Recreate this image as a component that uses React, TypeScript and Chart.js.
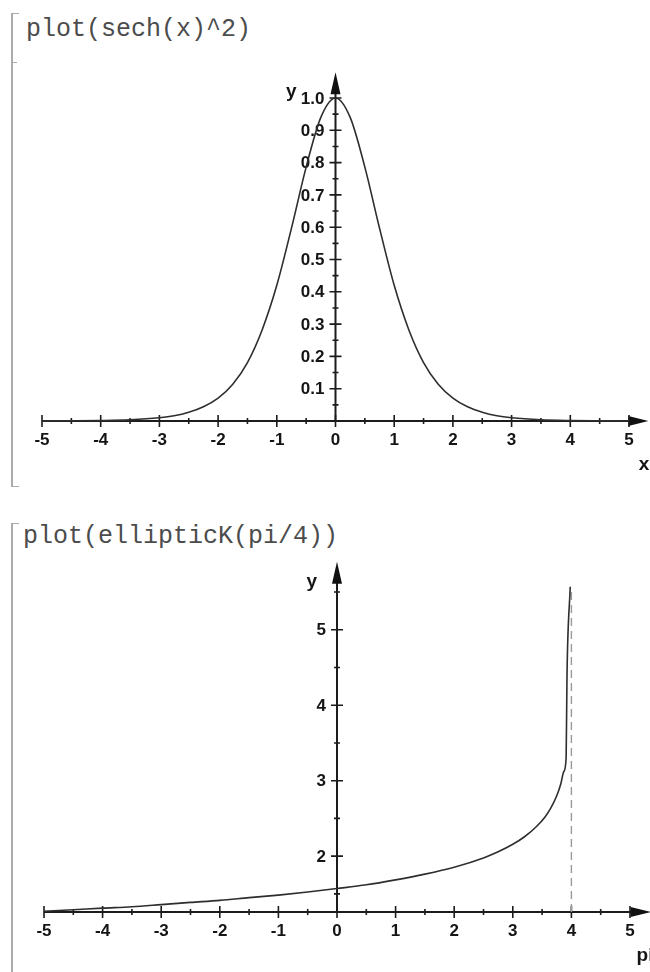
import React, { useEffect, useRef } from 'react';
import { Chart, registerables } from 'chart.js';

Chart.register(...registerables);

// ---------- data ----------
const sechXs = [-5, -4.5, -4, -3.5, -3, -2.75, -2.5, -2.25, -2, -1.75, -1.5, -1.25, -1, -0.75, -0.5, -0.25, 0, 0.25, 0.5, 0.75, 1, 1.25, 1.5, 1.75, 2, 2.25, 2.5, 2.75, 3, 3.5, 4, 4.5, 5];
const sechYs = [0.0002, 0.0005, 0.0013, 0.0036, 0.0099, 0.016, 0.027, 0.044, 0.071, 0.114, 0.181, 0.282, 0.42, 0.597, 0.786, 0.94, 1.0, 0.94, 0.786, 0.597, 0.42, 0.282, 0.181, 0.114, 0.071, 0.044, 0.027, 0.016, 0.0099, 0.0036, 0.0013, 0.0005, 0.0002];

const ellXs = [-5, -4.5, -4, -3.5, -3, -2.5, -2, -1.5, -1, -0.5, 0, 0.5, 1, 1.5, 2, 2.5, 2.75, 3, 3.2, 3.4, 3.55, 3.65, 3.75, 3.82, 3.87, 3.91, 3.925, 3.98];
const ellYs = [1.27, 1.29, 1.311, 1.33, 1.358, 1.387, 1.414, 1.45, 1.484, 1.525, 1.571, 1.62, 1.686, 1.762, 1.854, 1.977, 2.058, 2.157, 2.257, 2.39, 2.52, 2.64, 2.8, 2.96, 3.12, 3.3, 4.4, 5.57];

const asymptoteXs = [4, 4];
const asymptoteYs = [1.26, 5.52];

const xMajorTicks = [-5, -4, -3, -2, -1, 0, 1, 2, 3, 4, 5];
const xMajorLabels = ['-5', '-4', '-3', '-2', '-1', '0', '1', '2', '3', '4', '5'];
const xMinorTicks = [-4.5, -3.5, -2.5, -1.5, -0.5, 0.5, 1.5, 2.5, 3.5, 4.5];

const sechYMajor = [0.1, 0.2, 0.3, 0.4, 0.5, 0.6, 0.7, 0.8, 0.9, 1.0];
const sechYLabels = ['0.1', '0.2', '0.3', '0.4', '0.5', '0.6', '0.7', '0.8', '0.9', '1.0'];
const sechYMinor = [0.05, 0.15, 0.25, 0.35, 0.45, 0.55, 0.65, 0.75, 0.85, 0.95];

const ellYMajor = [2, 3, 4, 5];
const ellYLabels = ['2', '3', '4', '5'];
const ellYMinor = [1.5, 2.5, 3.5, 4.5, 5.5];

// ---------- axes plugin (Maple style crossing axes) ----------
type AxesCfg = {
  xAxisAt: number;
  yAxisFrom: number;
  xTip: number;
  yTip: number;
  yMajor: number[];
  yLabels: string[];
  yMinor: number[];
  xName: string;
  yName: string;
  yNameDx: number;
  yNameDy: number;
};

const LABEL_FONT = 'bold 17px "Liberation Sans"';
const NAME_FONT = 'bold 19px "Liberation Sans"';

function makeAxesPlugin(cfg: AxesCfg) {
  return {
    id: 'mapleAxes',
    beforeDatasetsDraw(chart: any) {
      const ctx: CanvasRenderingContext2D = chart.ctx;
      const xs = chart.scales.x;
      const ys = chart.scales.y;
      const px = (v: number) => xs.getPixelForValue(v);
      const py = (v: number) => ys.getPixelForValue(v);
      const y0 = py(cfg.xAxisAt);
      const x0 = px(0);
      const xTipPx = px(cfg.xTip);
      const yTipPx = py(cfg.yTip);
      ctx.save();
      ctx.strokeStyle = '#1c1c1c';
      ctx.fillStyle = '#111';
      ctx.lineWidth = 2;
      ctx.beginPath();
      ctx.moveTo(px(-5), y0);
      ctx.lineTo(xTipPx - 10, y0);
      ctx.stroke();
      ctx.beginPath();
      ctx.moveTo(x0, py(cfg.yAxisFrom));
      ctx.lineTo(x0, yTipPx + 10);
      ctx.stroke();
      ctx.beginPath();
      ctx.moveTo(xTipPx, y0);
      ctx.lineTo(xTipPx - 20, y0 - 5);
      ctx.lineTo(xTipPx - 20, y0 + 5);
      ctx.closePath();
      ctx.fill();
      ctx.beginPath();
      ctx.moveTo(x0, yTipPx);
      ctx.lineTo(x0 - 5, yTipPx + 22);
      ctx.lineTo(x0 + 5, yTipPx + 22);
      ctx.closePath();
      ctx.fill();
      ctx.lineWidth = 1.6;
      ctx.beginPath();
      xMajorTicks.forEach((v) => {
        const x = px(v);
        ctx.moveTo(x, y0 - 6);
        ctx.lineTo(x, y0 + 6);
      });
      xMinorTicks.forEach((v) => {
        const x = px(v);
        ctx.moveTo(x, y0 - 3);
        ctx.lineTo(x, y0 + 3);
      });
      cfg.yMajor.forEach((v) => {
        const y = py(v);
        ctx.moveTo(x0 - 6, y);
        ctx.lineTo(x0 + 6, y);
      });
      cfg.yMinor.forEach((v) => {
        const y = py(v);
        ctx.moveTo(x0 - 3, y);
        ctx.lineTo(x0 + 3, y);
      });
      ctx.stroke();
      ctx.font = LABEL_FONT;
      ctx.fillStyle = '#151515';
      ctx.textAlign = 'center';
      ctx.textBaseline = 'middle';
      xMajorTicks.forEach((v, i) => {
        ctx.fillText(xMajorLabels[i], px(v), y0 + 19);
      });
      ctx.textAlign = 'right';
      cfg.yMajor.forEach((v, i) => {
        ctx.fillText(cfg.yLabels[i], x0 - 11, py(v) + 1);
      });
      ctx.font = NAME_FONT;
      ctx.textAlign = 'center';
      ctx.fillText(cfg.xName, px(5) + 15, y0 + 44);
      ctx.textAlign = 'right';
      ctx.fillText(cfg.yName, x0 + cfg.yNameDx, yTipPx + cfg.yNameDy);
      ctx.restore();
    },
  };
}

type PlotProps = {
  top: number;
  height: number;
  xs: number[];
  ys: number[];
  extraXs?: number[];
  extraYs?: number[];
  yMin: number;
  yMax: number;
  pad: { left: number; right: number; top: number; bottom: number };
  axes: AxesCfg;
};

function Plot(props: PlotProps) {
  const ref = useRef<HTMLCanvasElement | null>(null);
  useEffect(() => {
    if (!ref.current) return;
    const datasets: any[] = [
      {
        data: props.xs.map((x, i) => ({ x, y: props.ys[i] })),
        showLine: true,
        pointRadius: 0,
        borderColor: '#2e2e2e',
        borderWidth: 1.6,
        fill: false,
        clip: false,
        cubicInterpolationMode: 'monotone',
      },
    ];
    if (props.extraXs && props.extraYs) {
      datasets.push({
        data: props.extraXs.map((x, i) => ({ x, y: props.extraYs![i] })),
        showLine: true,
        pointRadius: 0,
        borderColor: '#9a9a9a',
        borderWidth: 1.4,
        borderDash: [8, 5],
        fill: false,
        clip: false,
      });
    }
    const chart = new Chart(ref.current, {
      type: 'scatter',
      data: { datasets },
      options: {
        animation: false,
        responsive: false,
        maintainAspectRatio: false,
        events: [],
        layout: { padding: props.pad },
        plugins: { legend: { display: false }, tooltip: { enabled: false } },
        scales: {
          x: { type: 'linear', min: -5, max: 5, display: false },
          y: { type: 'linear', min: props.yMin, max: props.yMax, display: false },
        },
      },
      plugins: [makeAxesPlugin(props.axes)],
    } as any);
    return () => chart.destroy();
  }, []);
  return (
    <canvas
      ref={ref}
      width={650}
      height={props.height}
      style={{ position: 'absolute', left: 0, top: props.top, width: 650, height: props.height, display: 'block' }}
    />
  );
}

const cmdStyle: React.CSSProperties = {
  position: 'absolute',
  fontFamily: '"Liberation Mono", monospace',
  fontSize: 25,
  lineHeight: '30px',
  color: '#4c4c4c',
  whiteSpace: 'pre',
};

export default function App() {
  return (
    <div style={{ position: 'absolute', left: 0, top: 0, width: 650, height: 972, background: '#fff', overflow: 'hidden' }}>
      <div style={{ position: 'absolute', left: 11, top: 13, width: 6, height: 472, borderLeft: '2px solid #ababab', borderTop: '1.5px solid #ababab', borderBottom: '1.5px solid #ababab' }} />
      <div style={{ position: 'absolute', left: 11, top: 62, width: 6, height: 0, borderTop: '1.5px solid #ababab' }} />
      <div style={{ ...cmdStyle, left: 26, top: 15 }}>plot(sech(x)^2)</div>
      <div style={{ position: 'absolute', left: 11, top: 523, width: 6, height: 470, borderLeft: '2px solid #ababab', borderTop: '1.5px solid #ababab' }} />
      <div style={{ ...cmdStyle, left: 23, top: 522 }}>plot(ellipticK(pi/4))</div>

      <Plot
        top={0}
        height={500}
        xs={sechXs}
        ys={sechYs}
        yMin={0}
        yMax={1}
        pad={{ left: 42, right: 21, top: 98, bottom: 79 }}
        axes={{
          xAxisAt: 0,
          yAxisFrom: 0,
          xTip: 5.33,
          yTip: 1.08,
          yMajor: sechYMajor,
          yLabels: sechYLabels,
          yMinor: sechYMinor,
          xName: 'x',
          yName: 'y',
          yNameDx: -39,
          yNameDy: 20,
        }}
      />
      <Plot
        top={500}
        height={472}
        xs={ellXs}
        ys={ellYs}
        extraXs={asymptoteXs}
        extraYs={asymptoteYs}
        yMin={1.26}
        yMax={5.5}
        pad={{ left: 44, right: 20, top: 92, bottom: 60 }}
        axes={{
          xAxisAt: 1.26,
          yAxisFrom: 1.26,
          xTip: 5.35,
          yTip: 5.9,
          yMajor: ellYMajor,
          yLabels: ellYLabels,
          yMinor: ellYMinor,
          xName: 'pi',
          yName: 'y',
          yNameDx: -20,
          yNameDy: 20,
        }}
      />
    </div>
  );
}
